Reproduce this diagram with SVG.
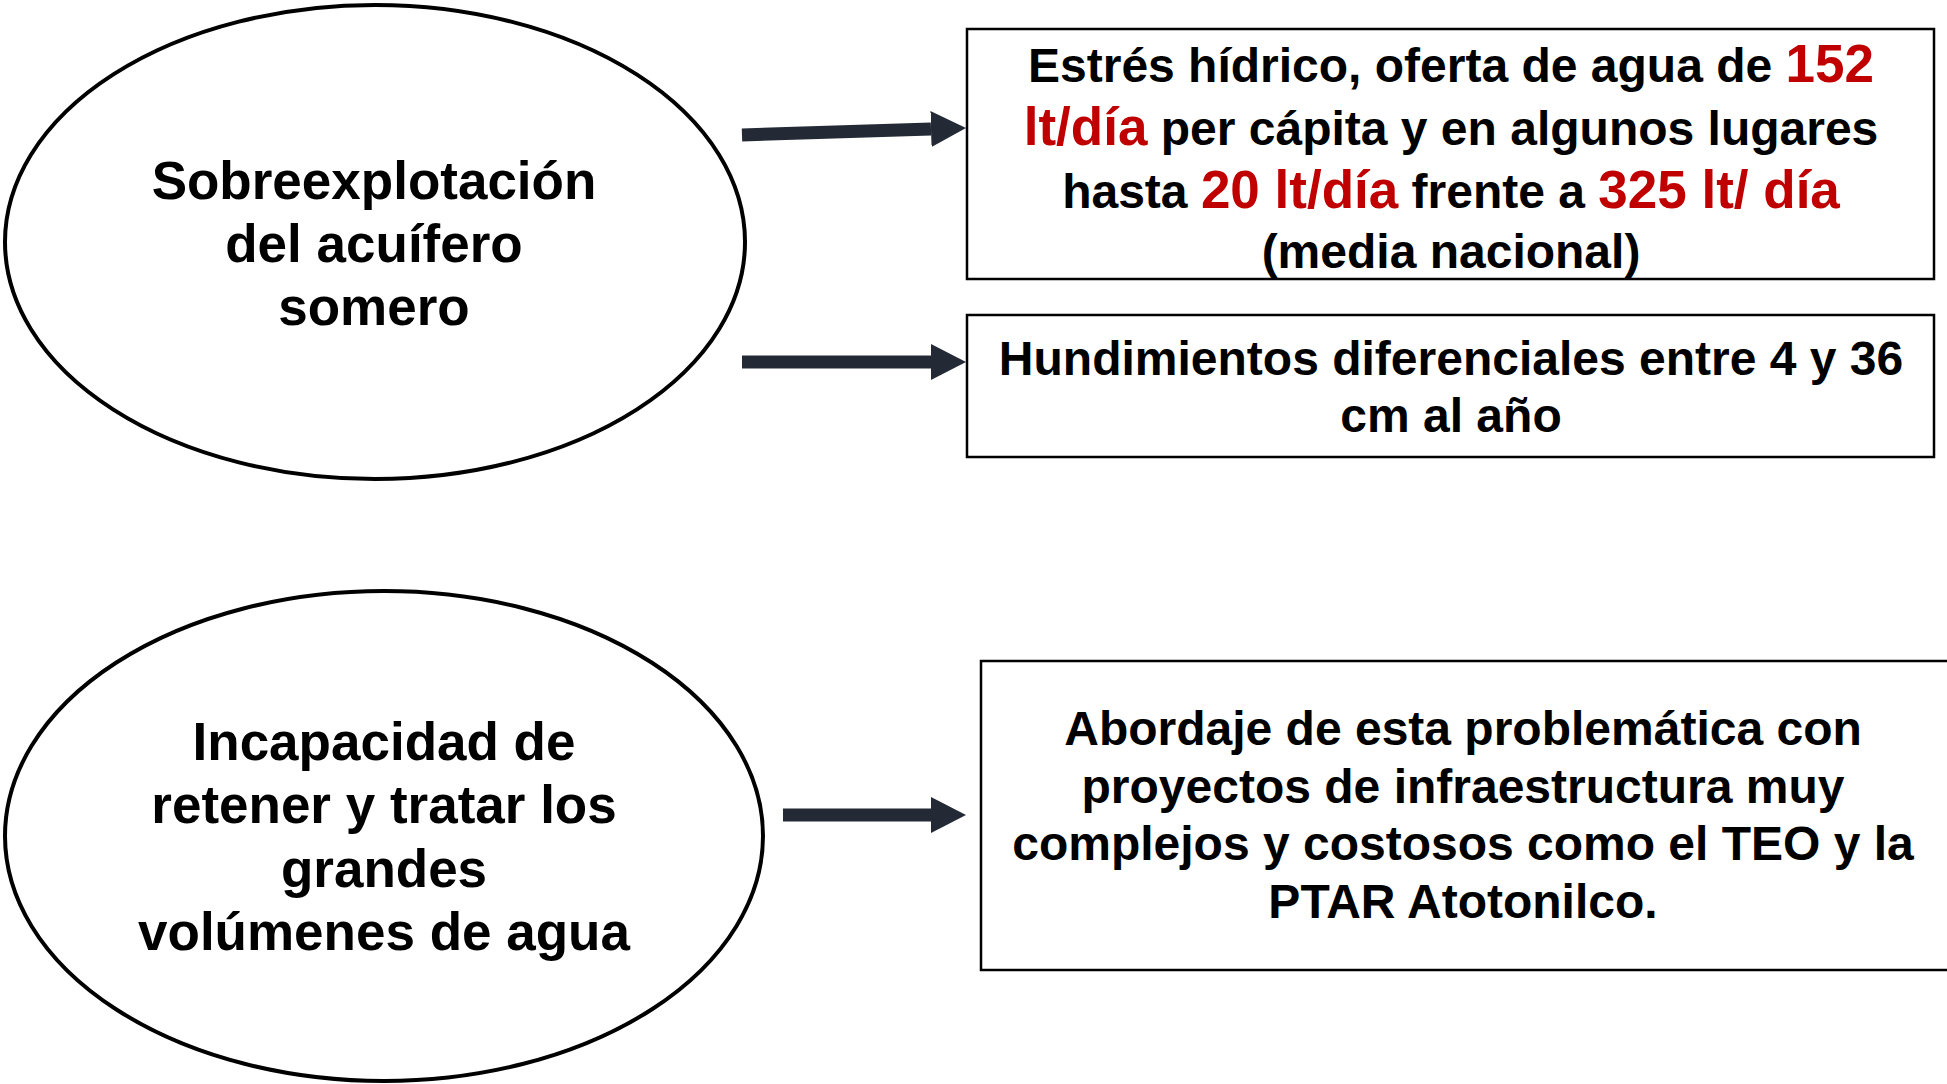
<svg xmlns="http://www.w3.org/2000/svg" width="1947" height="1084" viewBox="0 0 1947 1084">
<style>
.t{font-family:"Liberation Sans",Arial,sans-serif;font-weight:bold;fill:#000;text-anchor:middle}
.e{font-size:53px}
.b{font-size:48px}
.r{fill:#c00000;font-size:53px}
.ell{fill:#fff;stroke:#000;stroke-width:4}
.box{fill:#fff;stroke:#000;stroke-width:2.5}
.arr{stroke:#242a35;stroke-width:13;fill:none}
</style>
<defs>
<marker id="ah" markerUnits="userSpaceOnUse" viewBox="0 0 35 36" refX="0" refY="18" markerWidth="35" markerHeight="36" orient="auto">
<path d="M0,0 L35,18 L0,36 Z" fill="#242a35"/>
</marker>
</defs>
<rect width="1947" height="1084" fill="#fff"/>
<g id="connectors">
<path class="arr" d="M742,135 L931,129" marker-end="url(#ah)"/>
<path class="arr" d="M742,362 L931,362" marker-end="url(#ah)"/>
<path class="arr" d="M783,815 L931,815" marker-end="url(#ah)"/>
</g>
<g id="node-sobreexplotacion">
<ellipse class="ell" cx="375" cy="242" rx="370" ry="237"/>
<text class="t e" x="374" y="199">Sobreexplotación</text>
<text class="t e" x="374" y="262">del acuífero</text>
<text class="t e" x="374" y="325">somero</text>
</g>
<g id="node-incapacidad">
<ellipse class="ell" cx="384" cy="836" rx="379" ry="245"/>
<text class="t e" x="384" y="760">Incapacidad de</text>
<text class="t e" x="384" y="823">retener y tratar los</text>
<text class="t e" x="384" y="887">grandes</text>
<text class="t e" x="384" y="950">volúmenes de agua</text>
</g>
<g id="node-estres">
<rect class="box" x="967" y="29" width="967" height="250"/>
<text class="t b" x="1451" y="82">Estrés hídrico, oferta de agua de <tspan class="r">152</tspan></text>
<text class="t b" x="1451" y="145"><tspan class="r">lt/día</tspan> per cápita y en algunos lugares</text>
<text class="t b" x="1451" y="208">hasta <tspan class="r">20 lt/día</tspan> frente a <tspan class="r">325 lt/ día</tspan></text>
<text class="t b" x="1451" y="268">(media nacional)</text>
</g>
<g id="node-hundimientos">
<rect class="box" x="967" y="315" width="967" height="142"/>
<text class="t b" x="1451" y="375">Hundimientos diferenciales entre 4 y 36</text>
<text class="t b" x="1451" y="432">cm al año</text>
</g>
<g id="node-abordaje">
<rect class="box" x="981" y="661" width="968" height="309"/>
<text class="t b" x="1463" y="745">Abordaje de esta problemática con</text>
<text class="t b" x="1463" y="803">proyectos de infraestructura muy</text>
<text class="t b" x="1463" y="860">complejos y costosos como el TEO y la</text>
<text class="t b" x="1463" y="918">PTAR Atotonilco.</text>
</g>
</svg>
